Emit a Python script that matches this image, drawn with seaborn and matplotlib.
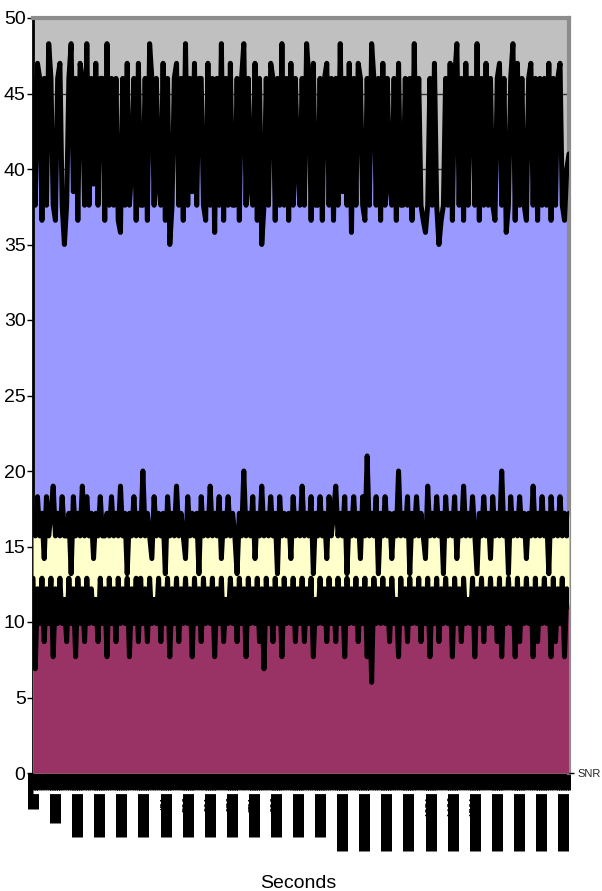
import numpy as np
import pandas as pd
import matplotlib
matplotlib.use("Agg")
import matplotlib.pyplot as plt
import seaborn as sns

# ---------------- data ----------------
blue_snr = [
    46.0, 37.6, 47.0, 46.0, 36.6, 46.0, 37.6, 48.3, 46.0, 37.6, 36.6, 46.0,
    47.0, 37.6, 35.0, 37.6, 46.0, 48.3, 38.5, 46.0, 36.6, 47.0, 46.0, 37.6,
    48.3, 37.6, 46.0, 39.0, 47.0, 37.6, 46.0, 46.0, 36.6, 48.3, 37.6, 46.0,
    37.6, 46.0, 36.6, 35.8, 46.0, 37.6, 47.0, 37.6, 40.0, 46.0, 36.6, 47.0,
    37.6, 37.6, 46.0, 36.6, 48.3, 46.0, 37.6, 46.0, 39.0, 37.6, 47.0, 36.6,
    46.0, 35.0, 37.6, 46.0, 47.0, 37.6, 46.0, 36.6, 48.3, 37.6, 46.0, 38.5,
    47.0, 37.6, 46.0, 46.0, 37.6, 36.6, 47.0, 37.6, 46.0, 35.8, 46.0, 37.6,
    48.3, 36.6, 46.0, 37.6, 47.0, 37.6, 37.6, 46.0, 36.6, 46.0, 48.3, 37.6,
    46.0, 39.0, 37.6, 47.0, 36.6, 46.0, 35.0, 37.6, 46.0, 37.6, 47.0, 46.0,
    36.6, 46.0, 37.6, 48.3, 37.6, 46.0, 36.6, 47.0, 37.6, 46.0, 40.0, 37.6,
    46.0, 37.6, 48.3, 46.0, 36.6, 47.0, 37.6, 37.6, 46.0, 36.6, 46.0, 47.0,
    37.6, 46.0, 36.6, 46.0, 37.6, 48.3, 38.5, 46.0, 37.6, 47.0, 35.8, 46.0,
    37.6, 47.0, 46.0, 37.6, 36.6, 46.0, 37.6, 48.3, 46.0, 37.6, 46.0, 36.6,
    47.0, 37.6, 46.0, 39.0, 37.6, 46.0, 36.6, 47.0, 37.6, 37.6, 46.0, 37.6,
    46.0, 36.6, 48.3, 37.6, 46.0, 37.6, 36.6, 35.8, 37.6, 46.0, 37.6, 47.0,
    37.6, 35.0, 36.6, 37.6, 46.0, 37.6, 47.0, 36.6, 46.0, 48.3, 37.6, 46.0,
    36.6, 47.0, 37.6, 46.0, 46.0, 37.6, 48.3, 36.6, 46.0, 37.6, 47.0, 37.6,
    46.0, 37.6, 36.6, 46.0, 47.0, 37.6, 46.0, 35.8, 37.6, 46.0, 48.3, 36.6,
    47.0, 37.6, 46.0, 37.6, 36.6, 46.0, 47.0, 37.6, 46.0, 36.6, 46.0, 37.6,
    46.0, 37.6, 47.0, 36.6, 46.0, 37.6, 46.0, 47.0, 37.6, 36.6, 40.0, 41.0,
]

yellow_snr = [
    17.2, 15.7, 18.3, 15.7, 17.2, 14.2, 18.3, 15.7, 17.2, 19.0, 15.7, 17.2,
    15.7, 18.3, 15.7, 15.7, 17.2, 13.2, 18.3, 15.7, 17.2, 15.7, 19.0, 15.7,
    18.3, 15.7, 17.2, 14.2, 17.2, 15.7, 18.3, 15.7, 15.7, 17.2, 15.7, 18.3,
    15.7, 17.2, 15.7, 19.0, 15.7, 17.2, 13.2, 17.2, 15.7, 18.3, 15.7, 17.2,
    15.7, 20.0, 15.7, 17.2, 15.7, 14.2, 18.3, 15.7, 17.2, 15.7, 17.2, 13.2,
    18.3, 15.7, 17.2, 15.7, 19.0, 15.7, 17.2, 15.7, 14.2, 18.3, 15.7, 17.2,
    15.7, 17.2, 13.2, 18.3, 15.7, 17.2, 15.7, 19.0, 15.7, 17.2, 15.7, 18.3,
    14.2, 17.2, 15.7, 18.3, 15.7, 17.2, 15.7, 13.2, 17.2, 15.7, 20.0, 15.7,
    17.2, 15.7, 18.3, 14.2, 17.2, 15.7, 19.0, 15.7, 17.2, 15.7, 18.3, 15.7,
    17.2, 13.2, 18.3, 15.7, 17.2, 15.7, 17.2, 14.2, 18.3, 15.7, 17.2, 15.7,
    19.0, 15.7, 17.2, 15.7, 18.3, 13.2, 17.2, 15.7, 18.3, 15.7, 17.2, 14.2,
    18.3, 15.7, 17.2, 19.0, 15.7, 17.2, 15.7, 18.3, 13.2, 17.2, 15.7, 18.3,
    15.7, 17.2, 14.2, 18.3, 15.7, 21.0, 15.7, 17.2, 15.7, 18.3, 13.2, 17.2,
    15.7, 18.3, 15.7, 17.2, 14.2, 17.2, 15.7, 20.0, 15.7, 17.2, 15.7, 18.3,
    13.2, 17.2, 15.7, 18.3, 15.7, 17.2, 15.7, 14.2, 19.0, 15.7, 17.2, 15.7,
    18.3, 15.7, 17.2, 13.2, 18.3, 15.7, 17.2, 15.7, 18.3, 14.2, 17.2, 15.7,
    19.0, 15.7, 17.2, 15.7, 18.3, 15.7, 13.2, 17.2, 15.7, 18.3, 15.7, 17.2,
    14.2, 18.3, 15.7, 17.2, 15.7, 20.0, 15.7, 17.2, 13.2, 18.3, 15.7, 17.2,
    15.7, 18.3, 15.7, 17.2, 14.2, 17.2, 15.7, 19.0, 15.7, 17.2, 15.7, 18.3,
    15.7, 17.2, 13.2, 18.3, 15.7, 17.2, 15.7, 18.3, 15.7, 17.2, 15.7, 17.2,
]

maroon_snr = [
    12.9, 6.9, 12.2, 9.9, 12.9, 8.7, 12.2, 9.9, 12.9, 7.7, 12.2, 9.9,
    12.9, 9.9, 11.5, 8.7, 12.9, 9.9, 12.2, 7.7, 12.9, 9.9, 12.2, 8.7,
    12.9, 9.9, 12.2, 9.9, 11.5, 8.7, 12.9, 9.9, 12.2, 7.7, 12.9, 9.9,
    12.2, 8.7, 12.9, 9.9, 12.2, 9.9, 12.9, 7.7, 12.2, 9.9, 12.9, 8.7,
    12.9, 9.9, 12.2, 8.7, 12.9, 9.9, 11.5, 9.9, 12.9, 8.7, 12.2, 9.9,
    12.9, 7.7, 12.2, 9.9, 12.9, 8.7, 12.2, 9.9, 12.9, 9.9, 12.2, 7.7,
    12.9, 9.9, 12.2, 8.7, 12.9, 9.9, 12.2, 9.9, 12.9, 7.7, 12.2, 9.9,
    12.9, 8.7, 11.5, 9.9, 12.9, 9.9, 12.2, 8.7, 12.9, 9.9, 12.2, 7.7,
    12.9, 9.9, 12.2, 9.9, 12.9, 8.7, 12.2, 6.9, 12.9, 9.9, 12.2, 8.7,
    12.9, 9.9, 12.2, 7.7, 12.9, 9.9, 12.2, 9.9, 12.9, 8.7, 12.2, 9.9,
    12.9, 8.7, 12.2, 9.9, 12.9, 7.7, 11.5, 9.9, 12.9, 9.9, 12.2, 8.7,
    12.9, 9.9, 12.2, 8.7, 12.9, 9.9, 12.2, 7.7, 12.9, 9.9, 12.2, 9.9,
    12.9, 8.7, 12.2, 9.9, 12.9, 7.7, 12.2, 6.0, 12.9, 9.9, 12.2, 9.9,
    12.9, 9.9, 12.2, 8.7, 12.9, 9.9, 11.5, 7.7, 12.9, 9.9, 12.2, 8.7,
    12.9, 9.9, 12.2, 9.9, 12.9, 8.7, 12.2, 9.9, 12.9, 7.7, 12.2, 9.9,
    12.9, 8.7, 12.2, 9.9, 12.9, 9.9, 12.2, 7.7, 12.9, 9.9, 12.2, 8.7,
    12.9, 9.9, 11.5, 9.9, 12.9, 7.7, 12.2, 9.9, 12.9, 8.7, 12.2, 9.9,
    12.9, 9.9, 12.2, 8.7, 12.9, 7.7, 12.2, 9.9, 12.9, 9.9, 12.2, 7.7,
    12.9, 8.7, 12.2, 9.9, 12.9, 9.9, 12.2, 7.7, 12.9, 8.7, 12.2, 9.9,
    12.9, 9.9, 12.2, 7.7, 12.9, 8.7, 12.2, 9.9, 12.9, 7.7, 12.2, 11.0,
]

y_ticks = [0, 5, 10, 15, 20, 25, 30, 35, 40, 45, 50]
x_tick_labels = ["1", "76", "151", "226", "301", "376", "451", "526", "601",
                 "676", "751", "826", "901", "976", "1051", "1126", "1201",
                 "1276", "1351", "1426", "1501", "1576", "1651", "1726", "1801"]
x_title = "Seconds"
depth_label = "SNR"

# ---------------- figure ----------------
sns.set_theme(style="white")
plt.rcParams["font.family"] = ["Liberation Sans Narrow", "Liberation Sans", "DejaVu Sans"]

W, H = 602, 891
fig = plt.figure(figsize=(W / 100, H / 100), dpi=100)
fig.patch.set_facecolor("white")
L, R, T, B = 33, 569, 18, 773
ax = fig.add_axes([L / W, 1 - B / H, (R - L) / W, (B - T) / H])
ax.set_facecolor("#C0C0C0")

n = len(blue_snr)
seconds = np.linspace(1, 1821, n)
df = pd.DataFrame({"Seconds": seconds, "blue": blue_snr,
                   "yellow": yellow_snr, "maroon": maroon_snr})

px = 0.72  # points per pixel at 100 dpi

series = [("blue", "#9999FF"), ("yellow", "#FFFFCC"), ("maroon", "#993366")]
for k, (name, col) in enumerate(series):
    ax.fill_between(df["Seconds"], 0, df[name], color=col, lw=0, zorder=2 + 2 * k)
    sns.lineplot(data=df, x="Seconds", y=name, color="black", linewidth=5.0 * px,
                 estimator=None, legend=False, ax=ax, zorder=3 + 2 * k)

ax.set_xlim(1, 1821)
ax.set_ylim(0, 50)
ax.set_xlabel("")
ax.set_ylabel("")

# grid
ax.set_yticks(y_ticks)
ax.yaxis.grid(True, color="#303030", linewidth=1.0)
ax.xaxis.grid(False)
ax.set_axisbelow(True)

# spines
ax.spines["left"].set_color("black")
ax.spines["left"].set_linewidth(2.0)
for s in ("top", "right"):
    ax.spines[s].set_color("#8c8c8c")
    ax.spines[s].set_linewidth(3.0)
ax.spines["bottom"].set_color("black")
ax.spines["bottom"].set_linewidth(1.0)

ax.tick_params(axis="y", which="major", left=True, direction="out",
               length=6 * px, width=1, color="black", labelsize=14, pad=1,
               labelcolor="black")

# x axis: dense minor ticks -> black strip, labels drawn inside black blocks
ax.set_xticks(seconds, minor=True)
ax.set_xticks([int(s) for s in x_tick_labels], labels=x_tick_labels)
ax.tick_params(axis="x", which="minor", bottom=True, direction="out",
               length=17 * px, width=3 * px, color="black")
ax.tick_params(axis="x", which="major", bottom=True, direction="out",
               length=21 * px, width=11 * px, color="black",
               labelsize=7, labelrotation=90, labelcolor="black", pad=1)
for tick, lab in zip(ax.xaxis.get_major_ticks(), x_tick_labels):
    tick.tick1line.set_markersize((22 + 14 * len(lab)) * px)

# white gap with faint dotted line between strip and label blocks
ax.plot([0, 1], [-(792 - B) / (B - T)] * 2, transform=ax.transAxes,
        color="white", lw=3.2 * px, clip_on=False, zorder=20, solid_capstyle="butt")
ax.plot([0, 1], [-(790 - B) / (B - T)] * 2, transform=ax.transAxes,
        color="#b0b0b0", lw=0.8, ls=(0, (1, 1)), clip_on=False, zorder=21)

# depth axis label on the right
ax2 = ax.twinx()
ax2.set_ylim(0, 50)
ax2.set_yticks([0], labels=[depth_label])
for s in ax2.spines.values():
    s.set_visible(False)
ax2.tick_params(axis="y", right=True, direction="out", length=5 * px, width=1,
                color="black", labelsize=8, pad=2.5)
ax2.grid(False)

fig.text(298 / W, 1 - 875 / H, x_title, ha="center", va="top", fontsize=14,
         color="black")

fig.savefig("out.png", dpi=100)
